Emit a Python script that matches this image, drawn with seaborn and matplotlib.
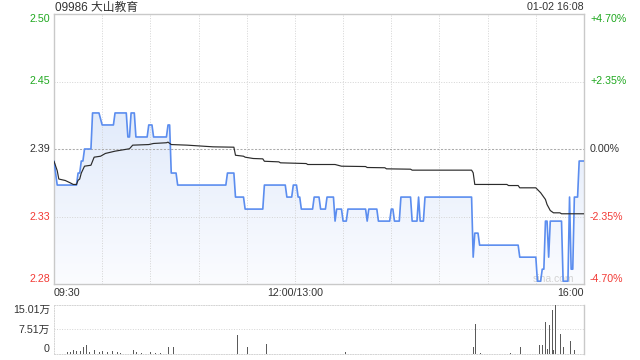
import numpy as np
import pandas as pd
import matplotlib
matplotlib.use("Agg")
import matplotlib.pyplot as plt
import seaborn as sns
from matplotlib.patches import PathPatch
from matplotlib.colors import LinearSegmentedColormap

sns.set_theme(style="white")
plt.rcParams["font.family"] = ["Liberation Sans", "Noto Sans CJK SC", "DejaVu Sans"]

# ---------------- data ----------------
title = "09986 大山教育"
stamp = "01-02 16:08"
prev_close = 2.39
pct_levels = [4.70, 2.35, 0.0, -2.35, -4.70]
price_tick_labels = ["2.50", "2.45", "2.39", "2.33", "2.28"]
pct_tick_labels = ["+4.70%", "+2.35%", "0.00%", "-2.35%", "-4.70%"]
time_labels = ["09:30", "12:00/13:00", "16:00"]
time_label_min = [0, 150, 330]

# minutes after 09:30 (lunch break removed), price
price_t = [0, 2, 14, 15, 16, 17, 18, 19, 23, 24, 28, 30, 37, 38, 45, 46, 47, 48, 50,
           51, 58, 59, 61, 62, 70, 71, 72, 73, 76, 77, 107, 108, 112, 113, 118,
           119, 130, 131, 144, 145, 148, 149, 151, 152, 153, 154, 161, 162, 165,
           166, 169, 170, 174, 175, 176, 179, 180, 182, 183, 194, 195, 196, 201,
           202, 209, 210, 211, 212, 215, 216, 222, 223, 226, 227, 228, 230, 231,
           260, 261, 262, 264, 265, 289, 290, 300, 301, 303, 304, 305, 306, 307,
           308, 309, 316, 317, 320, 321, 322, 323, 324, 326, 327, 330]
price_v = [2.38, 2.36, 2.36, 2.37, 2.37, 2.38, 2.38, 2.39, 2.39, 2.42, 2.42, 2.41, 2.41,
           2.42, 2.42, 2.40, 2.40, 2.42, 2.42, 2.40, 2.40, 2.41, 2.41, 2.40, 2.40,
           2.41, 2.41, 2.37, 2.37, 2.36, 2.36, 2.37, 2.37, 2.35, 2.35, 2.34, 2.34,
           2.36, 2.36, 2.35, 2.35, 2.36, 2.36, 2.35, 2.35, 2.34, 2.34, 2.35, 2.35,
           2.34, 2.34, 2.35, 2.35, 2.33, 2.34, 2.34, 2.33, 2.33, 2.34, 2.34, 2.33,
           2.34, 2.34, 2.33, 2.33, 2.34, 2.34, 2.33, 2.33, 2.35, 2.35, 2.33, 2.33,
           2.35, 2.33, 2.33, 2.35, 2.35, 2.30, 2.32, 2.32, 2.31, 2.31, 2.30, 2.30,
           2.28, 2.28, 2.29, 2.29, 2.33, 2.33, 2.30, 2.33, 2.33, 2.28, 2.28, 2.35,
           2.29, 2.29, 2.35, 2.35, 2.38, 2.38]

avg_t = [0, 2, 3, 7, 10, 12, 14, 15, 16, 17, 19, 23, 25, 29, 32, 38, 47, 49, 59, 62,
         70, 71, 73, 83, 99, 112, 113, 118, 119, 124, 130, 131, 140, 141, 157, 158,
         175, 179, 194, 195, 206, 207, 222, 223, 260, 261, 262, 282, 283, 289, 290,
         300, 303, 306, 307, 309, 311, 315, 316, 330]
avg_v = [2.3798, 2.3720, 2.3650, 2.3638, 2.3619, 2.3605, 2.3605, 2.3640, 2.3650,
         2.3700, 2.3757, 2.3765, 2.3832, 2.3840, 2.3863, 2.3882, 2.3902, 2.3932,
         2.3937, 2.3946, 2.3952, 2.3957, 2.3937, 2.3932, 2.3918, 2.3915, 2.3848,
         2.3840, 2.3832, 2.3821, 2.3818, 2.3798, 2.3793, 2.3785, 2.3779, 2.3771,
         2.3771, 2.3757, 2.3754, 2.3746, 2.3744, 2.3735, 2.3732, 2.3724, 2.3724,
         2.3702, 2.3605, 2.3605, 2.3596, 2.3596, 2.3577, 2.3577, 2.3536, 2.3480,
         2.3438, 2.3388, 2.3369, 2.3369, 2.3361, 2.3361]

# volume (万股)
vol_t = [8, 10, 12, 14, 16, 18, 20, 22, 25, 28, 30, 33, 36, 39, 41, 49, 51, 54, 60,
         63, 66, 71, 74, 114, 120, 132, 181, 261, 262, 265, 284, 290, 302, 304, 306,
         307, 308, 310, 311, 312, 315, 317, 321, 324]
vol_v = [0.5, 0.6, 1.3, 0.8, 1.0, 2.0, 2.9, 0.6, 1.3, 0.6, 0.8, 0.6, 0.8, 0.6, 0.4,
         1.3, 0.6, 0.4, 0.6, 0.3, 0.4, 2.0, 2.0, 5.7, 2.0, 3.1, 0.6, 2.0, 9.2, 0.4,
         0.3, 2.0, 2.7, 2.8, 9.9, 1.5, 8.8, 13.4, 1.3, 15.01, 6.2, 2.0, 3.9, 1.3]
vol_levels = [15.01, 7.51, 0]
vol_tick_labels = ["15.01万", "7.51万", "0"]

price_df = pd.DataFrame({"t": price_t, "p": price_v})
avg_df = pd.DataFrame({"t": avg_t, "p": avg_v})

# ---------------- style ----------------
W, H = 640, 360
GREEN = "#1fa81f"
RED = "#f23a35"
TXT = "#333333"
FRAME = "#c9c9c9"
GRID = "#d4d4d4"
DOT = (0, (1, 1.6))
BLUE = "#5b8def"
FS = 7.7

fig = plt.figure(figsize=(6.4, 3.6), dpi=100)
fig.patch.set_facecolor("white")
ax = fig.add_axes([54 / W, 76 / H, 530 / W, 270 / H])
vax = fig.add_axes([54 / W, 6 / H, 530 / W, 49 / H])

lo = prev_close * (1 - 0.047)
hi = prev_close * (1 + 0.047)
T_END = 330

# gradient fill under price line
poly = ax.fill_between(price_df["t"], price_df["p"], lo, color="none", lw=0)
path = poly.get_paths()[0]
patch = PathPatch(path, transform=ax.transData, facecolor="none", edgecolor="none")
ax.add_patch(patch)
cmap = LinearSegmentedColormap.from_list("g", ["#fbfcff", "#d3e1f8"])
grad = np.linspace(0, 1, 256).reshape(-1, 1)
im = ax.imshow(grad, extent=[0, T_END, lo, hi], origin="lower", aspect="auto",
               cmap=cmap, zorder=1, interpolation="bilinear")
im.set_clip_path(patch)

sns.lineplot(data=price_df, x="t", y="p", ax=ax, color=BLUE, lw=1.2,
             estimator=None, sort=False, zorder=4)
sns.lineplot(data=avg_df, x="t", y="p", ax=ax, color="#2b2b2b", lw=0.85,
             estimator=None, sort=False, zorder=5)

ax.set_xlim(0, T_END)
ax.set_ylim(lo, hi)
ax.set_xticks([])
ax.set_yticks([])
ax.set_xlabel("")
ax.set_ylabel("")
for s in ax.spines.values():
    s.set_color(FRAME)
    s.set_linewidth(1)

# gridlines
for m in range(30, T_END, 30):
    ax.axvline(m, color=GRID, lw=0.7, ls=DOT, zorder=2)
for pc in pct_levels[1:-1]:
    yv = prev_close * (1 + pc / 100)
    if pc == 0:
        ax.axhline(yv, color="#ababab", lw=0.75, ls=(0, (2, 1.5)), zorder=2)
    else:
        ax.axhline(yv, color=GRID, lw=0.7, ls=DOT, zorder=2)

# y tick labels
for i, (pc, lab, plab) in enumerate(zip(pct_levels, price_tick_labels, pct_tick_labels)):
    yv = prev_close * (1 + pc / 100)
    col = GREEN if pc > 0 else (RED if pc < 0 else TXT)
    va = "top" if i == 0 else ("bottom" if i == len(pct_levels) - 1 else "center")
    ax.annotate(lab, xy=(0, yv), xycoords=("axes fraction", "data"),
                xytext=(-4, 0), textcoords="offset pixels", ha="right", va=va,
                color=col, fontsize=FS, annotation_clip=False)
    ax.annotate(plab, xy=(1, yv), xycoords=("axes fraction", "data"),
                xytext=(6, 0), textcoords="offset pixels", ha="left", va=va,
                color=col, fontsize=FS, annotation_clip=False)

# x tick labels
for lab, m, ha in zip(time_labels, time_label_min, ["left", "center", "right"]):
    ax.annotate(lab, xy=(m, lo), xycoords="data", xytext=(0, -4),
                textcoords="offset pixels", ha=ha, va="top", color=TXT,
                fontsize=FS, annotation_clip=False)

# watermark
ax.text(0.9415, 0.019, "sina.com", transform=ax.transAxes, ha="center",
        va="center", color="#d2d2d2", fontsize=7.5, zorder=3)

# ---------------- volume ----------------
vax.vlines(vol_t, 0, vol_v, color="#5a5a5a", lw=0.72, antialiased=False, zorder=3)
vax.set_xlim(0, T_END)
vax.set_ylim(0, vol_levels[0])
vax.set_xticks([])
vax.set_yticks([])
vax.set_facecolor("white")
vax.spines["right"].set_color(FRAME)
vax.spines["right"].set_linewidth(1)
for side in ["top", "bottom", "left"]:
    vax.spines[side].set_color(GRID)
    vax.spines[side].set_linewidth(0.7)
    vax.spines[side].set_linestyle(DOT)
vax.axhline(vol_levels[1], color=GRID, lw=0.7, ls=DOT, zorder=2)
for i, (lv, lab) in enumerate(zip(vol_levels, vol_tick_labels)):
    va = "top" if i == 0 else ("bottom" if i == len(vol_levels) - 1 else "center")
    vax.annotate(lab, xy=(0, lv), xycoords=("axes fraction", "data"),
                 xytext=(-4, 0), textcoords="offset pixels", ha="right", va=va,
                 color=TXT, fontsize=FS, annotation_clip=False)

# header
fig.text(55 / W, 1 - 7.5 / H, title, ha="left", va="center", color=TXT, fontsize=8.5)
fig.text(584 / W, 1 - 7.5 / H, stamp, ha="right", va="center", color=TXT, fontsize=FS)

fig.savefig("out.png", dpi=100, facecolor="white")
